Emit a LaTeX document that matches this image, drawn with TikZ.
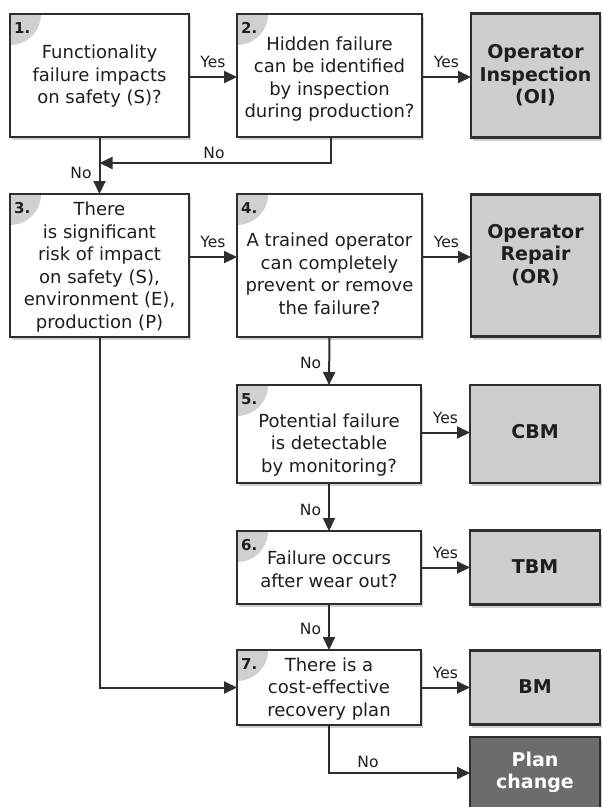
\documentclass[tikz,border=0pt]{standalone}
\usepackage{fontspec}
\setmainfont{DejaVu Sans}
\usetikzlibrary{arrows.meta,shadows}
\definecolor{lnc}{HTML}{2E2E2E}
\definecolor{resc}{HTML}{CECECE}
\definecolor{dkc}{HTML}{6C6C6C}
\definecolor{numc}{HTML}{D0D0D0}
\definecolor{txtc}{HTML}{1E1E1E}
\tikzset{
 shad/.style={drop shadow={shadow xshift=2pt,shadow yshift=-3pt,opacity=0.3,fill=black!60}},
 qbox/.style={fill=white, shad, inner sep=0pt, outer sep=0pt},
 rbox/.style={draw=lnc, line width=2.2pt, fill=resc, shad, inner sep=0pt, outer sep=0pt},
 pbox/.style={rbox, fill=dkc},
 border/.style={draw=lnc, line width=2.2pt},
 qtext/.style={text=txtc, align=center, inner sep=0pt, font=\fontsize{18}{22.5}\selectfont},
 rtext/.style={text=txtc, align=center, inner sep=0pt, font=\fontsize{19}{22.5}\selectfont\bfseries},
 numtext/.style={text=txtc, inner sep=0pt, font=\fontsize{15}{15}\selectfont\bfseries},
 lbl/.style={text=txtc, inner sep=1pt, font=\fontsize{15.5}{18}\selectfont},
 arr/.style={draw=lnc, line width=2pt, -{Triangle[length=13pt,width=12pt]}},
}
% name, cx, cy, w, h, number, text, text-y
\newcommand\QBox[8]{%
 \node[qbox, minimum width=#4pt, minimum height=#5pt] (#1) at (#2,#3) {};
 \begin{scope}
  \clip (#1.north west) rectangle (#1.south east);
  \fill[numc] (#1.north west) circle[radius=31pt];
 \end{scope}
 \draw[border] (#1.north west) rectangle (#1.south east);
 \node[numtext, anchor=north west] (#1n) at ([xshift=4pt,yshift=-8pt]#1.north west) {#6.};
 \node[qtext] (#1t) at (#2,#8) {#7};
}
\begin{document}
\begin{tikzpicture}[x=1pt,y=-1pt]
\useasboundingbox[fill=white] (0,0) rectangle (603,807);

% question boxes
\QBox{b1}{99.5}{75.5}{179}{123}{1}{Functionality\\failure impacts\\on safety (S)?}{76.5}
\QBox{b2}{329.5}{75.5}{185}{123}{2}{Hidden failure\\can be identified\\by inspection\\during production?}{79}
\QBox{b3}{99.5}{265.5}{179}{143}{3}{There\\is significant\\risk of impact\\on safety (S),\\environment (E),\\production (P)}{267}
\QBox{b4}{329.5}{265.5}{185}{143}{4}{A trained operator\\can completely\\prevent or remove\\the failure?}{274}
\QBox{b5}{329}{434}{184}{98}{5}{Potential failure\\is detectable\\by monitoring?}{445}
\QBox{b6}{329}{567.5}{184}{73}{6}{Failure occurs\\after wear out?}{569.5}
\QBox{b7}{329}{687.5}{184}{75}{7}{There is a\\cost-effective\\recovery plan}{689}

% result boxes
\node[rbox, minimum width=129pt, minimum height=124pt] (oi) at (535.5,75.5) {};
\node[rtext] (oit) at (535.5,75.5) {Operator\\Inspection\\(OI)};
\node[rbox, minimum width=129pt, minimum height=142pt] (or) at (535.5,265.5) {};
\node[rtext] (ort) at (535.5,255) {Operator\\Repair\\(OR)};
\node[rbox, minimum width=130pt, minimum height=98pt] (cbm) at (535,434) {};
\node[rtext] (cbmt) at (535,432) {CBM};
\node[rbox, minimum width=130pt, minimum height=74pt] (tbm) at (535,567.5) {};
\node[rtext] (tbmt) at (535,567) {TBM};
\node[rbox, minimum width=130pt, minimum height=74pt] (bm) at (535,687.5) {};
\node[rtext] (bmt) at (535,687) {BM};
\node[pbox, minimum width=130pt, minimum height=72pt] (pc) at (535,773) {};
\node[rtext, text=white] (pct) at (535,772.5) {Plan\\change};

% connectors
\draw[arr] ([yshift=-1.5pt]b1.east) -- ([yshift=-1.5pt]b2.west)
  node[lbl, midway, above=7pt] (y12) {Yes};
\draw[arr] ([yshift=-1.5pt]b2.east) -- ([yshift=-1.5pt]oi.west)
  node[lbl, midway, above=7pt] (y2oi) {Yes};

\coordinate (j1) at (99.5,163);
\draw[arr] ([xshift=1.5pt]b2.south) |- (j1);
\node[lbl] (n2) at (214,153) {No};

\draw[arr] (b1.south) -- (b3.north) node[lbl, pos=0.63, left=6pt] (n13) {No};

\draw[arr] ([yshift=8.5pt]b3.east) -- ([yshift=8.5pt]b4.west)
  node[lbl, midway, above=7pt] (y34) {Yes};
\draw[arr] ([yshift=8.5pt]b4.east) -- ([yshift=8.5pt]or.west)
  node[lbl, midway, above=7pt] (y4or) {Yes};

\draw[arr] (b4.south) -- (b5.north) node[lbl, pos=0.54, left=6pt] (n45) {No};
\draw[arr] ([yshift=1.5pt]b5.east) -- ([yshift=1.5pt]cbm.west)
  node[lbl, midway, above=7pt] (y5) {Yes};

\draw[arr] (b5.south) -- (b6.north) node[lbl, pos=0.56, left=6pt] (n56) {No};
\draw[arr] (b6.east) -- (tbm.west) node[lbl, midway, above=7pt] (y6) {Yes};

\draw[arr] (b6.south) -- (b7.north) node[lbl, pos=0.54, left=6pt] (n67) {No};
\draw[arr] (b7.east) -- (bm.west) node[lbl, midway, above=7pt] (y7) {Yes};

\draw[arr] (b7.south) |- (pc.west);
\node[lbl] (n7) at (368,762) {No};

\draw[arr] (b3.south) |- (b7.west);
\end{tikzpicture}
\end{document}
